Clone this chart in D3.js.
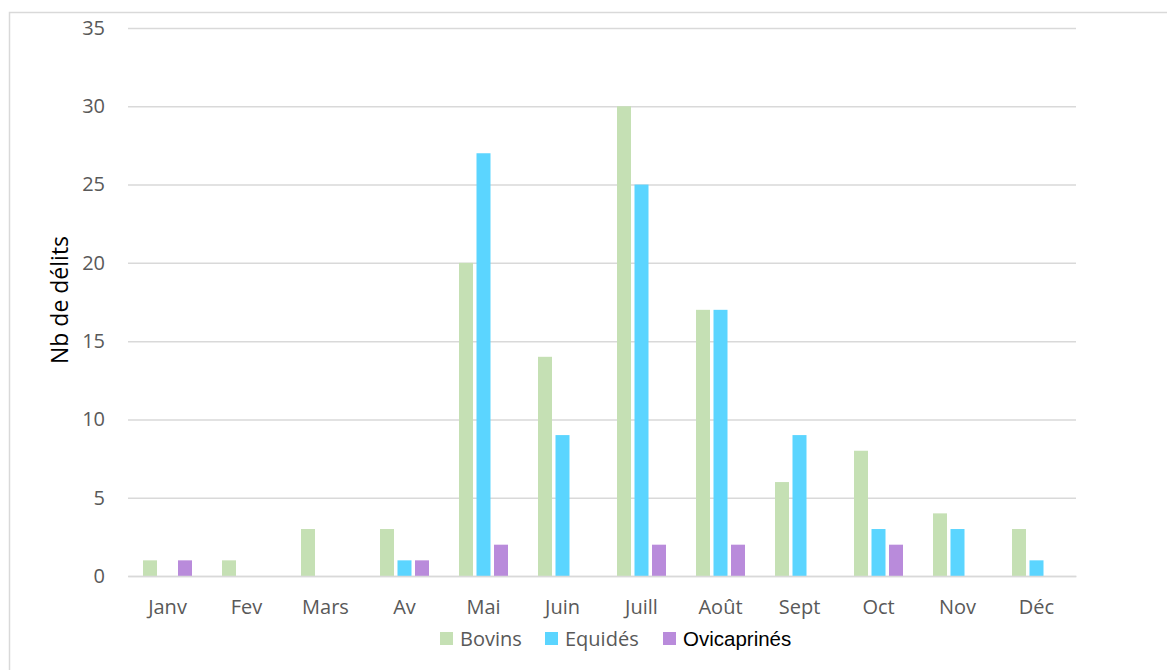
<!DOCTYPE html>
<html><head><meta charset="utf-8">
<script src="https://cdn.jsdelivr.net/npm/d3@7"></script>
<style>body{margin:0;background:#fff}</style>
</head><body>
<svg id="c" width="1167" height="670"></svg>
<script>
const months = ["Janv","Fev","Mars","Av","Mai","Juin","Juill","Août","Sept","Oct","Nov","Déc"];
const seriesNames = ["Bovins","Equidés","Ovicaprinés"];
const bovins = [1,1,3,3,20,14,30,17,6,8,4,3];
const equides = [0,0,0,1,27,9,25,17,9,3,3,1];
const ovicaprines = [1,0,0,1,2,0,2,2,0,2,0,0];
const yTicks = [0,5,10,15,20,25,30,35];
const colors = ["#C5E0B4","#5BD5FF","#B98BDB"];

const svg = d3.select("#c");
const m = {l:128, r:1076, t:28, b:576};
svg.append("rect").attr("x",9.5).attr("y",12.5).attr("width",1200).attr("height",700)
  .attr("fill","none").attr("stroke","#d9d9d9").attr("stroke-width",1.5);

const x = d3.scaleBand().domain(months).range([m.l,m.r]).paddingInner(0).paddingOuter(0);
const y = d3.scaleLinear().domain([0,35]).range([m.b,m.t]);
const xs = d3.scaleBand().domain(seriesNames).range([-24.5,24.5]).paddingInner(0.2);

// grid
const yAxis = d3.axisLeft(y).tickValues(yTicks).tickSize(-(m.r-m.l)).tickPadding(23);
const gy = svg.append("g").attr("transform",`translate(${m.l},0)`).call(yAxis);
gy.select(".domain").remove();
gy.selectAll(".tick line").attr("stroke","#d9d9d9").attr("stroke-width",1.5);
gy.selectAll(".tick text").attr("font-family","Open Sans").attr("font-size",20).attr("fill","#595959");

const data = [bovins,equides,ovicaprines];
data.forEach((arr,si)=>{
  svg.append("g").selectAll("rect").data(arr).enter().append("rect")
    .attr("x",(d,i)=>x(months[i])+x.bandwidth()/2+xs(seriesNames[si]))
    .attr("width",xs.bandwidth())
    .attr("y",d=>y(d)).attr("height",d=>y(0)-y(d))
    .attr("fill",colors[si]);
});

const xAxis = d3.axisBottom(x).tickSize(0).tickPadding(24);
const gx = svg.append("g").attr("transform",`translate(0,${m.b})`).call(xAxis);
gx.select(".domain").attr("stroke","#d9d9d9").attr("stroke-width",1.5);
gx.selectAll(".tick text").attr("font-family","Open Sans").attr("font-size",20).attr("fill","#595959");

svg.append("text").attr("transform","translate(68,300) rotate(-90)").attr("text-anchor","middle")
  .attr("font-family","Open Sans").attr("font-size",23).attr("fill","#000").text("Nb de délits");

// legend
const legX = [440,545,663];
seriesNames.forEach((s,i)=>{
  svg.append("rect").attr("x",legX[i]).attr("y",632).attr("width",13).attr("height",13).attr("fill",colors[i]);
  svg.append("text").attr("x",legX[i]+20).attr("y",646)
    .attr("font-family", i===2 ? "Liberation Sans" : "Open Sans")
    .attr("font-size", i===2 ? 20.5 : 20)
    .attr("fill", i===2 ? "#000" : "#595959").text(s);
});
</script>
</body></html>
